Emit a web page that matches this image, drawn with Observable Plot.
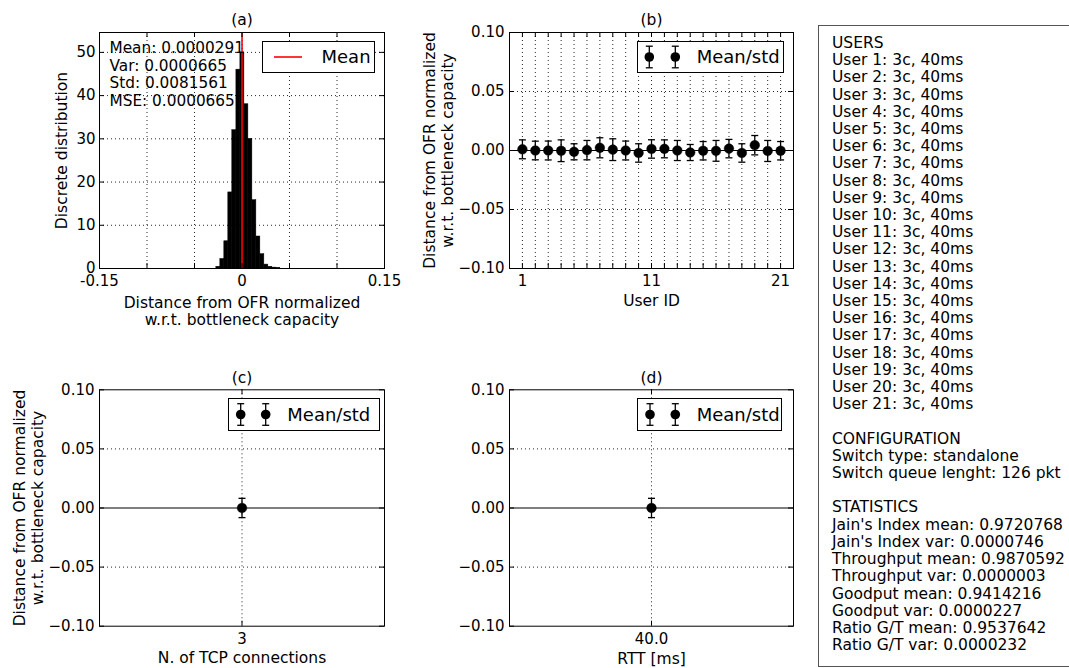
<!DOCTYPE html>
<html>
<head>
<meta charset="utf-8">
<script src="https://cdn.jsdelivr.net/npm/d3@7"></script>
<script src="https://cdn.jsdelivr.net/npm/@observablehq/plot@0.6"></script>
<style>
  body { margin: 0; background: #fff; }
  #root { position: relative; width: 1069px; height: 668px; overflow: hidden; background: #fff;
          font-family: "DejaVu Sans", sans-serif; color: #000; }
  .panel { position: absolute; }
  .legend { position: absolute; box-sizing: border-box; border: 1px solid #000; background: #fff; }
  .legend span { position: absolute; font-size: 18px; white-space: nowrap; line-height: 18px; }
  #info { position: absolute; left: 818px; top: 25px; width: 270px; height: 642px; box-sizing: border-box;
          border: 1.6px solid #555; padding: 9px 0 0 13px; font-size: 15.5px; line-height: 17.2px; white-space: pre; }
</style>
</head>
<body>
<div id="root"></div>
<script>
// ---------------- DATA ----------------
// (a) histogram of normalized distance (density)
const histEdges = [-0.0270, -0.0228, -0.0186, -0.0144, -0.0102, -0.0059, -0.0017, 0.0025, 0.0067,
                   0.0109, 0.0151, 0.0193, 0.0235, 0.0277, 0.0319, 0.0361, 0.0403];
const histDensity = [0.4, 2.2, 6.3, 17.6, 32, 46, 50, 38, 30, 15.8, 7.4, 3.3, 0.9, 0.4, 0.2, 0.1];
const statMean = 0.0000291;
const statLines = ["Mean: 0.0000291", "Var: 0.0000665", "Std: 0.0081561", "MSE: 0.0000665"];

// (b) per-user mean / std
const userIds = [1, 2, 3, 4, 5, 6, 7, 8, 9, 10, 11, 12, 13, 14, 15, 16, 17, 18, 19, 20, 21];
const userMeans = [0.0010, 0.0000, 0.0000, -0.0002, -0.0011, 0.0003, 0.0023, 0.0007, 0.0000, -0.0021,
                   0.0013, 0.0014, 0.0000, -0.0017, -0.0002, -0.0003, 0.0016, -0.0021, 0.0045, -0.0004, -0.0002];
const userStds = [0.0080, 0.0079, 0.0080, 0.0092, 0.0068, 0.0082, 0.0085, 0.0092, 0.0080, 0.0078,
                  0.0078, 0.0076, 0.0085, 0.0068, 0.0078, 0.0088, 0.0078, 0.0078, 0.0082, 0.0089, 0.0078];

// (c) by number of TCP connections
const tcpConns = [3];
const tcpMeans = [0.0000291];
const tcpStds = [0.0081561];

// (d) by RTT
const rttValues = [40.0];
const rttMeans = [0.0000291];
const rttStds = [0.0081561];

// tick values
const aXTicks = [-0.15, -0.10, -0.05, 0, 0.05, 0.10, 0.15];
const aXTickLabels = [-0.15, 0, 0.15];
const aYTicks = [0, 10, 20, 30, 40, 50];
const errYTicks = [-0.10, -0.05, 0, 0.05, 0.10];
const errYGrid = [-0.05, 0.05];
const bXTickLabels = [1, 11, 21];

// info box content
const userConnsInfo = [3, 3, 3, 3, 3, 3, 3, 3, 3, 3, 3, 3, 3, 3, 3, 3, 3, 3, 3, 3, 3];
const userRttInfo = [40, 40, 40, 40, 40, 40, 40, 40, 40, 40, 40, 40, 40, 40, 40, 40, 40, 40, 40, 40, 40];
const configLines = ["Switch type: standalone", "Switch queue lenght: 126 pkt"];
const statNames = ["Jain's Index mean", "Jain's Index var", "Throughput mean", "Throughput var",
                   "Goodput mean", "Goodput var", "Ratio G/T mean", "Ratio G/T var"];
const statValues = ["0.9720768", "0.0000746", "0.9870592", "0.0000003",
                    "0.9414216", "0.0000227", "0.9537642", "0.0000232"];

const yLabelText = "Distance from OFR normalized\nw.r.t. bottleneck capacity";

// ---------------- HELPERS ----------------
const root = document.getElementById("root");
const FONT = "DejaVu Sans";
const baseStyle = {fontFamily: FONT, fontSize: "15px", background: "transparent", overflow: "visible"};
const dotted = {stroke: "#000", strokeOpacity: 0.85, strokeWidth: 1, strokeDasharray: "1,3"};
const TICK = 5;
const LABEL_FS = 15.5;
const centered = {textAnchor: "middle", lineAnchor: "middle", fontSize: LABEL_FS};

function place(el, left, top) {
  const w = document.createElement("div");
  w.className = "panel";
  w.style.left = left + "px";
  w.style.top = top + "px";
  w.appendChild(el);
  root.appendChild(w);
}

function inwardTicks(xt, yt, innerW, innerH) {
  return [
    Plot.tickX(xt, {x: d => d, insetTop: innerH - TICK, stroke: "#000"}),
    Plot.tickX(xt, {x: d => d, insetBottom: innerH - TICK, stroke: "#000"}),
    Plot.tickY(yt, {y: d => d, insetRight: innerW - TICK, stroke: "#000"}),
    Plot.tickY(yt, {y: d => d, insetLeft: innerW - TICK, stroke: "#000"})
  ];
}

const capSymbol = {
  draw(ctx, size) {
    const r = Math.sqrt(size / Math.PI);
    ctx.moveTo(-r, 0);
    ctx.lineTo(r, 0);
  }
};

// ---------------- PANEL (a) ----------------
{
  const W = 409, H = 340, mL = 99, mR = 25, mT = 32, mB = 72;
  const hist = histDensity.map((v, i) => ({x1: histEdges[i], x2: histEdges[i + 1], y: v}));
  const p = Plot.plot({
    width: W, height: H, marginLeft: mL, marginRight: mR, marginTop: mT, marginBottom: mB,
    style: baseStyle,
    x: {domain: [-0.15, 0.15]},
    y: {domain: [0, 54.6]},
    marks: [
      Plot.gridX(aXTicks.slice(1, -1), dotted),
      Plot.gridY(aYTicks.slice(1), dotted),
      Plot.rectY(hist, {x1: "x1", x2: "x2", y: "y", fill: "#000", stroke: "#000", strokeWidth: 0.5}),
      Plot.ruleX([statMean], {stroke: "#ff0000", strokeWidth: 1.6}),
      ...inwardTicks(aXTicks, aYTicks, W - mL - mR, H - mT - mB),
      Plot.frame({stroke: "#000", strokeWidth: 1}),
      Plot.axisX(aXTickLabels, {tickSize: 0, tickPadding: 7, fontSize: 15, label: null,
        tickFormat: d => d === 0 ? "0" : d.toFixed(2)}),
      Plot.axisY(aYTicks, {tickSize: 0, tickPadding: 4, fontSize: 15, label: null, tickFormat: d => String(d)}),
      Plot.text([statLines.join("\n")], {frameAnchor: "top-left", dx: 10, dy: 8, textAnchor: "start",
        lineAnchor: "top", lineHeight: 1.147, fontSize: 15.3}),
      Plot.text(["(a)"], {frameAnchor: "top", dy: -12, ...centered}),
      Plot.text(["Distance from OFR normalized\nw.r.t. bottleneck capacity"], {frameAnchor: "bottom", dy: 42.6,
        lineHeight: 1.12, ...centered}),
      Plot.text(["Discrete distribution"], {frameAnchor: "left", rotate: -90, dx: -37.5, ...centered})
    ]
  });
  place(p, 0, 0);
}

// ---------------- ERROR-BAR PANELS ----------------
function errPanel({xs, means, stds, xDomain, xGrid, xTickLabels, tickFmt, title, xLabel, yLabel,
                   W, H, mL, mR, mT, mB, titleDy, xLabelDy}) {
  const data = xs.map((x, i) => ({x, m: means[i], s: stds[i]}));
  const marks = [
    Plot.gridX(xGrid, dotted),
    Plot.gridY(errYGrid, dotted),
    Plot.ruleY([0], {stroke: "#000", strokeWidth: 1.2}),
    Plot.ruleX(data, {x: "x", y1: d => d.m - d.s, y2: d => d.m + d.s, stroke: "#000", strokeWidth: 1.3}),
    Plot.dot(data, {x: "x", y: d => d.m + d.s, symbol: capSymbol, r: 3.5, fill: "none", stroke: "#000", strokeWidth: 1.3}),
    Plot.dot(data, {x: "x", y: d => d.m - d.s, symbol: capSymbol, r: 3.5, fill: "none", stroke: "#000", strokeWidth: 1.3}),
    Plot.dot(data, {x: "x", y: "m", r: 4.8, fill: "#000", stroke: "#000", strokeWidth: 0.5}),
    ...inwardTicks(xGrid, errYTicks, W - mL - mR, H - mT - mB),
    Plot.frame({stroke: "#000", strokeWidth: 1}),
    Plot.axisX(xTickLabels, {tickSize: 0, tickPadding: 7, fontSize: 15, label: null, tickFormat: tickFmt}),
    Plot.axisY(errYTicks, {tickSize: 0, tickPadding: 5, fontSize: 15, label: null, tickFormat: d3.format(".2f")}),
    Plot.text([title], {frameAnchor: "top", dy: titleDy, ...centered}),
    Plot.text([xLabel], {frameAnchor: "bottom", dy: xLabelDy, ...centered})
  ];
  if (yLabel) marks.push(Plot.text([yLabel], {frameAnchor: "left", rotate: -90, dx: -71.5, lineHeight: 1.2, ...centered}));
  return Plot.plot({
    width: W, height: H, marginLeft: mL, marginRight: mR, marginTop: mT, marginBottom: mB,
    style: baseStyle,
    x: {domain: xDomain},
    y: {domain: [-0.1, 0.1]},
    marks
  });
}

place(errPanel({xs: userIds, means: userMeans, stds: userStds, xDomain: [0, 22], xGrid: userIds,
  xTickLabels: bXTickLabels, tickFmt: d => String(d), title: "(b)", xLabel: "User ID", yLabel: yLabelText,
  W: 400, H: 340, mL: 100, mR: 16, mT: 32, mB: 72, titleDy: -12, xLabelDy: 33}), 409, 0);

place(errPanel({xs: tcpConns, means: tcpMeans, stds: tcpStds, xDomain: [2, 4], xGrid: tcpConns,
  xTickLabels: tcpConns, tickFmt: d => String(d), title: "(c)", xLabel: "N. of TCP connections", yLabel: yLabelText,
  W: 409, H: 328, mL: 99, mR: 25, mT: 49.3, mB: 42.3, titleDy: -11.3, xLabelDy: 31.5}), 0, 340);

place(errPanel({xs: rttValues, means: rttMeans, stds: rttStds, xDomain: [39, 41], xGrid: rttValues,
  xTickLabels: rttValues, tickFmt: d3.format(".1f"), title: "(d)", xLabel: "RTT [ms]", yLabel: null,
  W: 400, H: 328, mL: 100, mR: 16, mT: 49.3, mB: 42.3, titleDy: -11.3, xLabelDy: 32.5}), 409, 340);

// ---------------- LEGENDS ----------------
function legend({left, top, width, height, kind, markers, textLeft, text}) {
  const div = document.createElement("div");
  div.className = "legend";
  Object.assign(div.style, {left: left + "px", top: top + "px", width: width + "px", height: height + "px"});
  const cy = height / 2 - 1;
  const svg = d3.create("svg").attr("width", width).attr("height", height)
    .style("position", "absolute").style("left", "-1px").style("top", "-1px").style("overflow", "visible");
  if (kind === "line") {
    svg.append("line").attr("x1", markers[0] - left).attr("x2", markers[1] - left)
      .attr("y1", cy + 1).attr("y2", cy + 1).attr("stroke", "#ff0000").attr("stroke-width", 1.6);
  } else {
    for (const mx of markers) {
      const x = mx - left;
      const g = svg.append("g").attr("stroke", "#000").attr("stroke-width", 1.3);
      g.append("line").attr("x1", x).attr("x2", x).attr("y1", cy + 1 - 10.8).attr("y2", cy + 1 + 10.8);
      g.append("line").attr("x1", x - 3.5).attr("x2", x + 3.5).attr("y1", cy + 1 - 10.8).attr("y2", cy + 1 - 10.8);
      g.append("line").attr("x1", x - 3.5).attr("x2", x + 3.5).attr("y1", cy + 1 + 10.8).attr("y2", cy + 1 + 10.8);
      svg.append("circle").attr("cx", x).attr("cy", cy + 1).attr("r", 4.8).attr("fill", "#000");
    }
  }
  div.appendChild(svg.node());
  const span = document.createElement("span");
  span.textContent = text;
  span.style.left = (textLeft - left - 1) + "px";
  span.style.top = (height / 2 - 10) + "px";
  div.appendChild(span);
  root.appendChild(div);
}

legend({left: 262, top: 41, width: 113, height: 32, kind: "line", markers: [274, 302], textLeft: 321.5, text: "Mean"});
legend({left: 637, top: 41, width: 147, height: 32, kind: "err", markers: [649.3, 675.3], textLeft: 696.7, text: "Mean/std"});
legend({left: 228, top: 398, width: 152, height: 33, kind: "err", markers: [240.7, 265.7], textLeft: 287.3, text: "Mean/std"});
legend({left: 637, top: 398, width: 145, height: 33, kind: "err", markers: [650, 675.3], textLeft: 696.7, text: "Mean/std"});

// ---------------- INFO BOX ----------------
{
  const lines = ["USERS"];
  userIds.forEach((u, i) => lines.push(`User ${u}: ${userConnsInfo[i]}c, ${userRttInfo[i]}ms`));
  lines.push("", "CONFIGURATION", ...configLines, "", "STATISTICS");
  statNames.forEach((n, i) => lines.push(`${n}: ${statValues[i]}`));
  const info = document.createElement("div");
  info.id = "info";
  info.textContent = lines.join("\n");
  root.appendChild(info);
}
</script>
</body>
</html>
